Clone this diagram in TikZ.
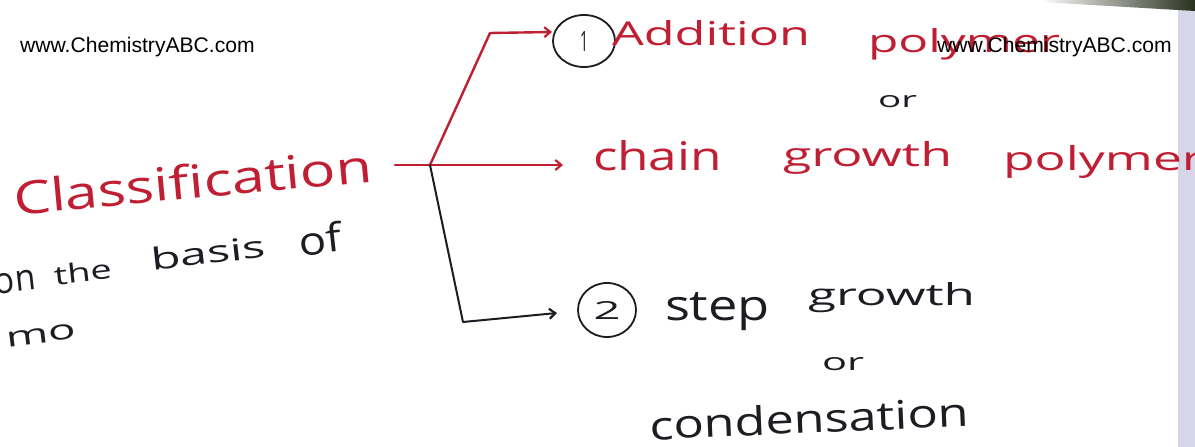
\documentclass[tikz,border=0pt]{standalone}
\usepackage{fontspec}
\setmainfont{Open Sans}
\newfontfamily\wmfont{Liberation Sans}
\usetikzlibrary{arrows.meta,shapes.geometric}
\definecolor{ink}{RGB}{192,30,50}
\definecolor{pen}{RGB}{28,28,34}
\definecolor{stripgray}{RGB}{214,214,232}
\definecolor{photodark}{RGB}{40,48,30}
\newcommand\hw[3]{\resizebox{#1pt}{#2pt}{#3}}
\begin{document}
\begin{tikzpicture}[x=1pt,y=-1pt,
  word/.style={anchor=base west, inner sep=0pt, outer sep=0pt},
  redw/.style={word, text=ink},
  blkw/.style={word, text=pen},
  wm/.style={anchor=base west, inner sep=0pt, text=black,
    font=\wmfont\fontsize{21.1}{24}\selectfont},
  conn/.style={line cap=round, line join=round},
  redline/.style={conn, draw=ink, line width=2.4pt},
  blkline/.style={conn, draw=pen, line width=2pt},
  tip/.style={-{Straight Barb[length=6pt,width=10pt,line width=2.2pt]}},
  numring/.style={draw=pen, line width=1.8pt, ellipse, inner sep=0pt, text=pen}
]
\useasboundingbox (0,0) rectangle (1195,447);
\fill[white] (0,0) rectangle (1195,447);
\fill[stripgray] (1178,0) rectangle (1195,447);
\shade[left color=white, right color=photodark] (1040,0) -- (1195,0) -- (1195,11) -- (1040,2) -- cycle;

% left block
\node[redw, rotate=5.3] (cls) at (15,215) {\hw{360}{35}{Classification}};
\node[blkw, rotate=6.3] (on) at (-4,294) {\hw{41}{20}{on}};
\node[blkw, rotate=6.3] (the) at (55,285) {\hw{58}{20}{the}};
\node[blkw, rotate=6.3] (basis) at (152,270) {\hw{115}{23}{basis}};
\node[blkw, rotate=6.3] (of) at (300,256) {\hw{43}{30}{of}};
\node[blkw, rotate=7] (mo) at (7,347) {\hw{70}{15}{mo}};

% branch 1
\node[numring, minimum width=62pt, minimum height=52pt] (c1) at (584,41) {\hw{8}{20}{1}};
\node[redw] (add) at (612,45) {\hw{198}{25}{Addition}};
\node[redw] (poly1) at (868,52) {\hw{192}{24}{polymer}};
\node[blkw] (or1) at (878,107) {\hw{39}{12}{or}};
\node[redw] (chain) at (593,170) {\hw{129}{30}{chain}};
\node[redw] (grow1) at (783,166) {\hw{169}{25}{growth}};
\node[redw] (poly2) at (1003,170) {\hw{200}{25}{polymer}};

% branch 2
\node[numring, minimum width=58pt, minimum height=54pt] (c2) at (607,310) {\hw{27}{18}{2}};
\node[blkw] (step) at (665,320) {\hw{105}{28}{step}};
\node[blkw] (grow2) at (808,305) {\hw{167}{23}{growth}};
\node[blkw] (or2) at (822,370) {\hw{42}{13}{or}};
\node[blkw, rotate=2.5] (cond) at (650,440) {\hw{320}{30}{condensation}};

% watermarks
\node[wm] (wm1) at (20,52) {www.ChemistryABC.com};
\node[wm] (wm2) at (937,52) {www.ChemistryABC.com};

% connectors
\coordinate (s) at (395,165);
\coordinate (j) at (430,165);
\coordinate (b1) at (490,33);
\coordinate (e1) at (552,32);
\coordinate (e2) at (563,165);
\coordinate (b3) at (463,322);
\coordinate (e3) at (557,313);
\draw[redline, tip] (j) -- (b1) -- (e1);
\draw[redline, tip] (s) -- (e2);
\draw[blkline, tip] (j) -- (b3) -- (e3);
\end{tikzpicture}
\end{document}
